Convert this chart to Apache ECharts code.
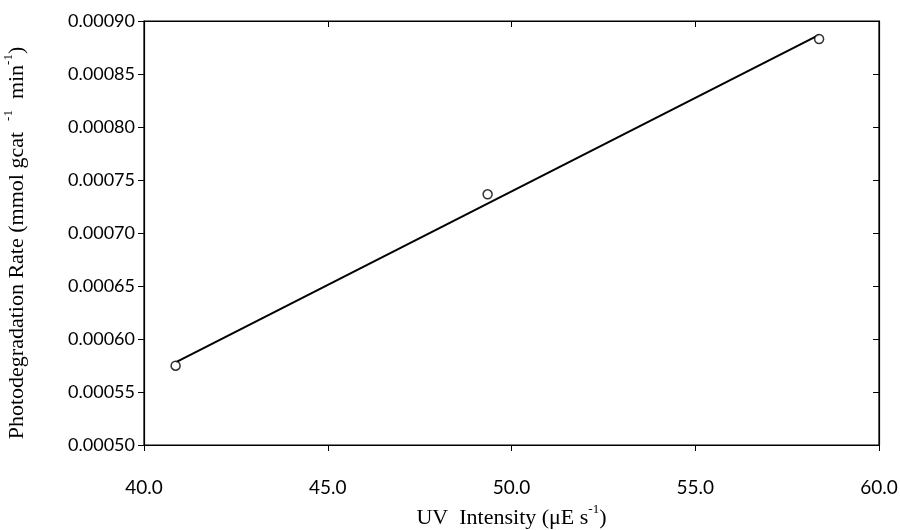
<!DOCTYPE html>
<html><head><meta charset="utf-8">
<script src="https://cdn.jsdelivr.net/npm/echarts@6/dist/echarts.min.js"></script>
<style>html,body{margin:0;padding:0;background:#fff}#c{width:900px;height:530px}</style>
</head><body><div id="c"></div>
<script>
var uvIntensity = [40.86, 49.35, 58.37];
var rate = [0.0005748, 0.0007365, 0.000883];
var fitX = [40.86, 58.37];
var fitY = [0.000578, 0.000887];
var xTicks = [40, 45, 50, 55, 60];
var yTicks = [0.0005, 0.00055, 0.0006, 0.00065, 0.0007, 0.00075, 0.0008, 0.00085, 0.0009];

var chart = echarts.init(document.getElementById('c'));
var tickFont = 'Lato, "Open Sans", sans-serif';
var serif = '"Liberation Serif", "DejaVu Serif", serif';
function baseX(extra){ return Object.assign({
  type:'value', min:40, max:60, interval:5,
  axisLine:{show:true, lineStyle:{color:'#000', width:1.2}},
  splitLine:{show:false}}, extra); }
function baseY(extra){ return Object.assign({
  type:'value', min:0.0005, max:0.0009, interval:0.00005,
  axisLine:{show:true, lineStyle:{color:'#000', width:1.2}},
  splitLine:{show:false}}, extra); }

chart.setOption({
  backgroundColor:'#fff',
  animation:false,
  grid:{left:144, right:21, top:21, bottom:85, show:true, borderColor:'#000', borderWidth:1.2,
        containLabel:false, outerBoundsMode:'none'},
  xAxis:[
    baseX({
      axisTick:{show:true, length:6, lineStyle:{color:'#000'}},
      axisLabel:{color:'#000', fontFamily:tickFont, fontSize:19, margin:33,
        formatter:function(v){return v.toFixed(1);}},
      name:'{n|UV  Intensity (μE s}{s|-1}{n|)}', nameLocation:'middle', nameGap:58,
      nameTextStyle:{rich:{
        n:{fontFamily:serif, fontSize:22, color:'#000', lineHeight:26, verticalAlign:'bottom'},
        s:{fontFamily:serif, fontSize:13, color:'#000', lineHeight:26, verticalAlign:'top'}}}
    }),
    baseX({axisTick:{show:true, inside:true, length:6, lineStyle:{color:'#000'}}, axisLabel:{show:false}})
  ],
  yAxis:[
    baseY({
      axisTick:{show:true, length:6, lineStyle:{color:'#000'}},
      axisLabel:{color:'#000', fontFamily:tickFont, fontSize:18, margin:9,
        formatter:function(v){return v.toFixed(5);}},
      name:'{n|Photodegradation Rate (mmol gcat  }{s|-1}{n|  min}{s|-1}{n|)}', nameLocation:'middle', nameGap:116,
      nameTextStyle:{padding:[0,20,0,0], rich:{
        n:{fontFamily:serif, fontSize:22, color:'#000', lineHeight:26, verticalAlign:'bottom'},
        s:{fontFamily:serif, fontSize:13, color:'#000', lineHeight:26, verticalAlign:'top'}}}
    }),
    baseY({axisTick:{show:true, inside:true, length:6, lineStyle:{color:'#000'}}, axisLabel:{show:false}})
  ],
  series:[
    {type:'line', data:fitX.map(function(x,i){return [x, fitY[i]];}),
     showSymbol:false, lineStyle:{color:'#000', width:2}, z:2},
    {type:'scatter', data:uvIntensity.map(function(x,i){return [x, rate[i]];}),
     symbol:'circle', symbolSize:9,
     itemStyle:{color:'#fff', borderColor:'#000', borderWidth:1.5}, z:3}
  ]
});
</script></body></html>
